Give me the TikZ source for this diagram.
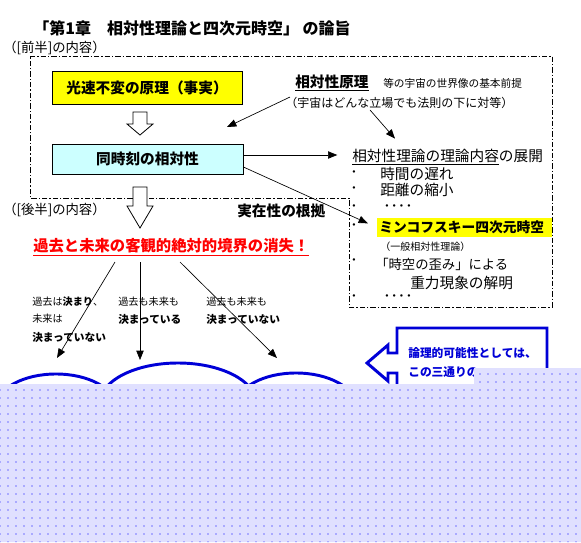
\documentclass[tikz,border=0pt]{standalone}
\usepackage{fontspec}
\setmainfont{Noto Sans CJK JP}
\usetikzlibrary{arrows.meta,shapes.geometric,patterns.meta,calc}
\definecolor{boxyellow}{RGB}{255,255,0}
\definecolor{boxcyan}{RGB}{204,255,255}
\definecolor{lavender}{RGB}{224,224,255}
\definecolor{ovalblue}{RGB}{0,0,215}
\begin{document}
\begin{tikzpicture}[x=0.75pt,y=-0.75pt]
\tikzstyle{txt} = [anchor=west,inner sep=0pt]
\tikzstyle{box} = [draw=black,line width=0.6pt,inner sep=0pt,font=\fontsize{11}{13}\selectfont\bfseries]
\tikzstyle{hollow} = [draw=black,fill=white,line width=0.6pt]
\tikzstyle{con} = [-{Triangle[length=7pt,width=5.5pt]},line width=0.5pt]
\tikzstyle{oval} = [ellipse,draw=ovalblue,line width=2.2pt,inner sep=0pt]
\tikzstyle{small} = [txt,font=\fontsize{7.6}{9}\selectfont]
\tikzstyle{smallbold} = [txt,font=\fontsize{8}{10}\selectfont\bfseries]
\tikzstyle{item} = [txt,font=\fontsize{11}{13}\selectfont]
\useasboundingbox (0,0) rectangle (581,542);
% heading
\node[txt,font=\fontsize{12}{14}\selectfont\bfseries] (title) at (33,28) {「第1章　相対性理論と四次元時空」 の論旨};
\node[txt,font=\fontsize{10}{12}\selectfont] (zenhan) at (3,48) {（[前半]の内容）};
\draw[line width=0.6pt,dash pattern=on 4pt off 1.5pt on 1pt off 1.5pt] (30,56) -- (552,56) -- (552,307) -- (349,307) -- (349,198) -- (30,198) -- cycle;
% left column
\node[box,fill=boxyellow,minimum width=142.5pt,minimum height=24.75pt] (light) at (147,87.5) {光速不変の原理（事実）};
\draw[hollow] (133,112) -- (147,112) -- (147,124) -- (153,124) -- (140,135) -- (127,124) -- (133,124) -- cycle;
\node[box,fill=boxcyan,minimum width=143.25pt,minimum height=22.5pt] (simul) at (147.5,159) {同時刻の相対性};
\draw[hollow] (133,187) -- (147,187) -- (147,206) -- (153,206) -- (140,228) -- (127,206) -- (133,206) -- cycle;
% principle
\node[txt,font=\fontsize{11}{13}\selectfont\bfseries] (ppl) at (295,83) {\underline{相対性原理}};
\node[txt,font=\fontsize{8}{10}\selectfont] (pplnote) at (383,83) {等の宇宙の世界像の基本前提};
\node[txt,font=\fontsize{9}{11}\selectfont] (pplsub) at (285,103) {（宇宙はどんな立場でも法則の下に対等）};
\coordinate (lighttip) at (227,127);
\draw[con] ($(pplsub.north west)+(5,0)$) -- (lighttip);
% theory
\node[item] (theory) at (352,157) {\underline{相対性理論の理論内容}の展開};
\draw[con] ($(pplsub.south west)+(85,1)$) -- ($(theory.north west)+(43,-10)$);
\draw[con,shorten >=11pt] ([yshift=3pt]simul.east) -- ([yshift=3pt]simul.east -| theory.west);
\foreach \y [count=\i] in {174,190,208,227,262,298}
  \node[item] (dot\i) at (350,\y) {･};
\node[item] (delay) at (380,174) {時間の遅れ};
\node[item] (shrink) at (380,190) {距離の縮小};
\node[item] (etc1) at (383,208) {････};
\node[txt,fill=boxyellow,inner xsep=1.5pt,text width=128.25pt,align=left,minimum height=14.25pt,font=\fontsize{10.3}{12}\selectfont\bfseries] (mink) at (377,227.5) {ミンコフスキー四次元時空};
\draw[con,shorten >=7.5pt] ([yshift=-6pt]simul.east) -- (mink.west);
\node[txt,font=\fontsize{7.5}{9}\selectfont] (general) at (380,247) {（一般相対性理論）};
\node[txt,font=\fontsize{10}{12}\selectfont] (warp) at (375,264) {「時空の歪み」による};
\node[item] (gravity) at (410,283) {重力現象の解明};
\node[item] (etc2) at (383,298) {････};
% second half
\node[txt,font=\fontsize{10}{12}\selectfont] (kohan) at (3,210) {（[後半]の内容）};
\node[txt,font=\fontsize{11}{13}\selectfont\bfseries] (real) at (237,211) {実在性の根拠};
\node[txt,text=red,font=\fontsize{11.5}{13}\selectfont\bfseries] (vanish) at (33,247) {\underline{過去と未来の客観的絶対的境界の消失！}};
\coordinate (tipA) at (57,358);
\coordinate (tipB) at (140,360);
\coordinate (tipC) at (277,358);
\draw[con] ($(vanish.south west)+(82,6)$) -- (tipA);
\draw[con] ($(vanish.south west)+(107,6)$) -- (tipB);
\draw[con] ($(vanish.south west)+(147,6)$) -- (tipC);
\node[small] (pastA) at (32,302) {過去は\textbf{決まり}、};
\node[small] (futA) at (32,319) {未来は};
\node[smallbold] (notA) at (32,337) {決まっていない};
\node[small] (pastB) at (118,302) {過去も未来も};
\node[smallbold] (fixB) at (118,319) {決まっている};
\node[small] (pastC) at (206,302) {過去も未来も};
\node[smallbold] (notC) at (206,319) {決まっていない};
\node[oval,minimum width=88.5pt,minimum height=48pt] (oval1) at (56,406) {};
\node[oval,minimum width=117pt,minimum height=60pt] (oval2) at (178,403) {};
\node[oval,minimum width=88.5pt,minimum height=48pt] (oval3) at (296,405) {};
% callout
\draw[draw=ovalblue,line width=2.2pt,fill=white] (397,328) -- (547,328) -- (547,470) -- (397,470) -- (397,373) -- (388,373) -- (388,381) -- (367,363) -- (388,345) -- (388,353) -- (397,353) -- cycle;
\node[txt,text=ovalblue,font=\fontsize{8.8}{10}\selectfont\bfseries] (logic) at (408,353) {論理的可能性としては、};
\node[txt,text=ovalblue,font=\fontsize{8.8}{10}\selectfont\bfseries] (three) at (408,372) {この三通りの};
% overlay
\path[fill=lavender,postaction={pattern={Dots[distance=6pt,radius=0.7pt]},pattern color=blue!55}] (0,384) -- (474,384) -- (474,368) -- (581,368) -- (581,542) -- (0,542) -- cycle;
\end{tikzpicture}
\end{document}
